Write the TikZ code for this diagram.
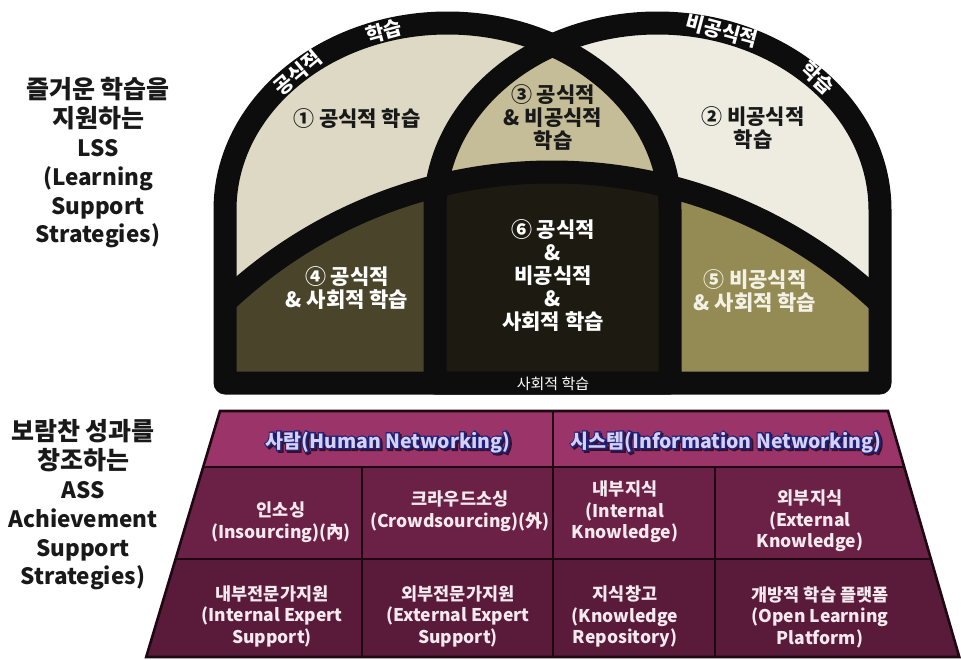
\documentclass[tikz,border=0pt]{standalone}
\usepackage{fontspec}
\setmainfont{Noto Sans CJK KR}
\usetikzlibrary{calc}
\definecolor{band}{HTML}{0D0D0D}
\definecolor{cA}{HTML}{DDD9C4}
\definecolor{cB}{HTML}{EEECE1}
\definecolor{cC}{HTML}{C4BD97}
\definecolor{cD}{HTML}{4A452A}
\definecolor{cF}{HTML}{1D1B11}
\definecolor{cE}{HTML}{948A54}
\definecolor{hdr}{HTML}{9B3468}
\definecolor{rowA}{HTML}{6B2146}
\definecolor{rowB}{HTML}{5A1B3B}
\definecolor{grid}{HTML}{1E0812}
\definecolor{celltxt}{HTML}{F4E9EF}
\definecolor{hdrfill}{HTML}{D6D0F4}
\definecolor{hdrline}{HTML}{1F227A}
\definecolor{hdrshadow}{HTML}{3A0F26}
\definecolor{cream}{HTML}{F3F1E6}
\newcommand\outlinedtext[1]{\leavevmode\rlap{\raisebox{-1.6pt}{\hspace{1.6pt}\color{hdrshadow}\addfontfeature{FakeBold=14}#1}}\rlap{\color{hdrline}\addfontfeature{FakeBold=14}#1}\color{hdrfill}#1}
\newcommand\bigko[1]{{\fontsize{25}{28.8}\selectfont #1}}
\def\Larch{(225,383) -- (225,210) arc[start angle=180,end angle=360,x radius=222.5,y radius=187] -- (670,383) -- cycle}
\def\Rarch{(435,383) -- (435,210) arc[start angle=180,end angle=360,x radius=222.5,y radius=187] -- (880,383) -- cycle}
\tikzset{
  bandline/.style={draw=band,line width=23pt,line join=round},
  reglbl/.style={font=\fontsize{21}{23}\selectfont\bfseries,align=center,inner sep=0pt},
  arclbl/.style={font=\fontsize{20}{22}\selectfont\bfseries,text=white,inner sep=0pt},
  sidelbl/.style={font=\fontsize{22.5}{28.8}\selectfont\bfseries,align=center,text=black!90,inner sep=0pt},
  celllbl/.style={font=\fontsize{17.5}{21.5}\selectfont\bfseries,align=center,text=celltxt,inner sep=0pt},
  hdrlbl/.style={font=\fontsize{19.5}{22}\selectfont\bfseries,inner sep=0pt},
  gridline/.style={draw=grid,line width=2.2pt}
}
\begin{document}
\begin{tikzpicture}[x=1pt,y=-1pt]
\useasboundingbox (0,0) rectangle (961,659);
\fill[white] (0,0) rectangle (961,659);
% ---------- arch fills
\fill[cA] \Larch;
\fill[cB] \Rarch;
\begin{scope}
  \clip \Larch;
  \fill[cC] \Rarch;
\end{scope}
\begin{scope}
  \clip (552,648) circle[radius=476];
  \fill[cD] (225,100) rectangle (435,383);
  \fill[cF] (435,100) rectangle (670,383);
  \fill[cE] (670,100) rectangle (880,383);
\end{scope}
% ---------- arch bands
\draw[bandline] \Larch;
\draw[bandline] \Rarch;
\begin{scope}
  \clip (225,0) rectangle (880,400);
  \draw[bandline] (552,648) circle[radius=476];
\end{scope}
% ---------- arc labels
\node[arclbl,rotate=40] (tA) at (298,73) {공식적};
\node[arclbl,rotate=15] (tB) at (384,31) {학습};
\node[arclbl,rotate=-15] (tC) at (722,31) {비공식적};
\node[arclbl,rotate=-43] (tD) at (818,78) {학습};
% ---------- region labels
\node[reglbl,text=black!90] (r1) at (357,119) {① 공식적 학습};
\node[reglbl,text=black!90] (r3) at (553,118) {③ 공식적\\\& 비공식적\\학습};
\node[reglbl,text=black!90] (r2) at (753,128) {② 비공식적\\학습};
\node[reglbl,text=white] (r4) at (347,288) {④ 공식적\\\& 사회적 학습};
\node[reglbl,text=white] (r6) at (553,276) {⑥ 공식적\\\&\\비공식적\\\&\\사회적 학습};
\node[reglbl,text=cream] (r5) at (755,291) {⑤ 비공식적\\\& 사회적 학습};
\node[font=\fontsize{15}{16}\selectfont,text=white,inner sep=0pt] (soc) at (553,384) {사회적 학습};
% ---------- side titles
\node[sidelbl] (lss) at (98,163) {\bigko{즐거운 학습을}\\\bigko{지원하는}\\LSS\\(Learning\\Support\\Strategies)};
\node[sidelbl] (ass) at (83,505) {\bigko{보람찬 성과를}\\\bigko{창조하는}\\ASS\\Achievement\\Support\\Strategies)};
% ---------- table
\coordinate (tl0) at (220,411);   \coordinate (tr0) at (888,411);
\coordinate (tl1) at (203.2,467); \coordinate (tr1) at (904.2,467);
\coordinate (tl2) at (175.6,559); \coordinate (tr2) at (930.9,559);
\coordinate (tl3) at (146.2,657); \coordinate (tr3) at (959.3,657);
\fill[hdr] (tl0) -- (tr0) -- (tr1) -- (tl1) -- cycle;
\fill[rowA] (tl1) -- (tr1) -- (tr2) -- (tl2) -- cycle;
\fill[rowB] (tl2) -- (tr2) -- (tr3) -- (tl3) -- cycle;
\draw[gridline] (tl1) -- (tr1);
\draw[gridline] (tl2) -- (tr2);
\draw[gridline] (553,411) -- (553,657);
\draw[gridline] (362,467) -- (362,657);
\draw[gridline] (715,467) -- (715,657);
\draw[gridline,line width=2.6pt,line join=miter] (tl0) -- (tr0) -- (tr3) -- (tl3) -- cycle;
% header texts with outline
\node[hdrlbl] (hL) at (388,443) {\outlinedtext{사람(Human Networking)}};
\node[hdrlbl] (hR) at (726,443) {\outlinedtext{시스템(Information Networking)}};
% cells
\node[celllbl] (c11) at (281,522) {인소싱\\(Insourcing)(內)};
\node[celllbl] (c12) at (460,511) {크라우드소싱\\(Crowdsourcing)(外)};
\node[celllbl] (c13) at (625,512) {내부지식\\(Internal\\Knowledge)};
\node[celllbl] (c14) at (810,521) {외부지식\\(External\\Knowledge)};
\node[celllbl] (c21) at (272,616) {내부전문가지원\\(Internal Expert\\Support)};
\node[celllbl] (c22) at (458,616) {외부전문가지원\\(External Expert\\Support)};
\node[celllbl] (c23) at (625,617) {지식창고\\(Knowledge\\Repository)};
\node[celllbl] (c24) at (820,617) {개방적 학습 플랫폼\\(Open Learning\\Platform)};
\end{tikzpicture}
\end{document}
